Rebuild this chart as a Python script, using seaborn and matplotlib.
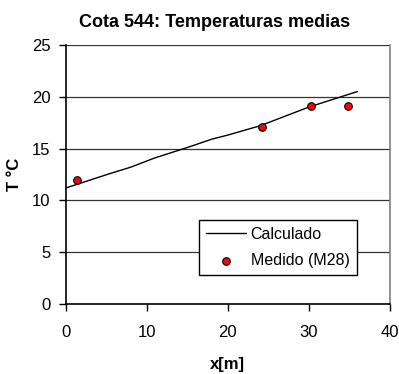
import matplotlib
matplotlib.use("Agg")
import matplotlib.pyplot as plt
import seaborn as sns
import pandas as pd

# Calculated temperature profile along x
x_calc = [0, 5.5, 8, 11, 15, 18, 20, 24, 30, 36]
t_calc = [11.2, 12.6, 13.2, 14.1, 15.1, 15.9, 16.3, 17.2, 19.0, 20.5]

# Measured values (M28)
x_med = [1.4, 24.2, 30.3, 34.8]
t_med = [12.0, 17.1, 19.1, 19.1]

x_ticks = [0, 10, 20, 30, 40]
y_ticks = [0, 5, 10, 15, 20, 25]

sns.set_style("white")
plt.rcParams["font.family"] = ["Liberation Sans", "DejaVu Sans"]
plt.rcParams["text.color"] = "black"
plt.rcParams["axes.labelcolor"] = "black"

calc = pd.DataFrame({"x": x_calc, "T": t_calc})
med = pd.DataFrame({"x": x_med, "T": t_med})

fig = plt.figure(figsize=(3.99, 3.74), dpi=100)
ax = fig.add_axes([0.165, 0.187, 0.812, 0.693])

for y in y_ticks[1:]:
    ax.axhline(y, color="#333333", lw=0.9, zorder=0)

sns.lineplot(data=calc, x="x", y="T", ax=ax, color="black", lw=1.0,
             label="Calculado", zorder=3)
sns.scatterplot(data=med, x="x", y="T", ax=ax, color="red", edgecolor="black",
                linewidth=0.8, s=30, label="Medido (M28)", zorder=4)

ax.set_xlim(0, 40)
ax.set_ylim(0, 25)
ax.set_xticks(x_ticks)
ax.set_yticks(y_ticks)
ax.tick_params(axis="both", labelsize=12, length=5, width=1, direction="out",
               colors="black", bottom=True, left=True)
ax.tick_params(axis="x", pad=10)
ax.tick_params(axis="y", pad=6)

for side in ["left", "bottom"]:
    ax.spines[side].set_color("black")
    ax.spines[side].set_linewidth(1.2)
ax.spines["right"].set_color("#808080")
ax.spines["right"].set_linewidth(1.2)
ax.spines["top"].set_visible(False)

ax.set_xlabel("x[m]", fontsize=12, fontweight="bold", labelpad=12)
ax.set_ylabel("T °C", fontsize=12, fontweight="bold", labelpad=7)
ax.set_title("Cota 544: Temperaturas medias", fontsize=13, fontweight="bold",
             pad=13, color="black", x=0.46)

leg = ax.legend(loc="upper left", bbox_to_anchor=(0.41, 0.325), fontsize=11.5,
                frameon=True, fancybox=False, framealpha=1, edgecolor="black",
                borderpad=0.45, handlelength=2.5, handletextpad=0.3,
                labelspacing=0.7, borderaxespad=0)
leg.get_frame().set_linewidth(1.0)

fig.savefig("out.png", dpi=100)
